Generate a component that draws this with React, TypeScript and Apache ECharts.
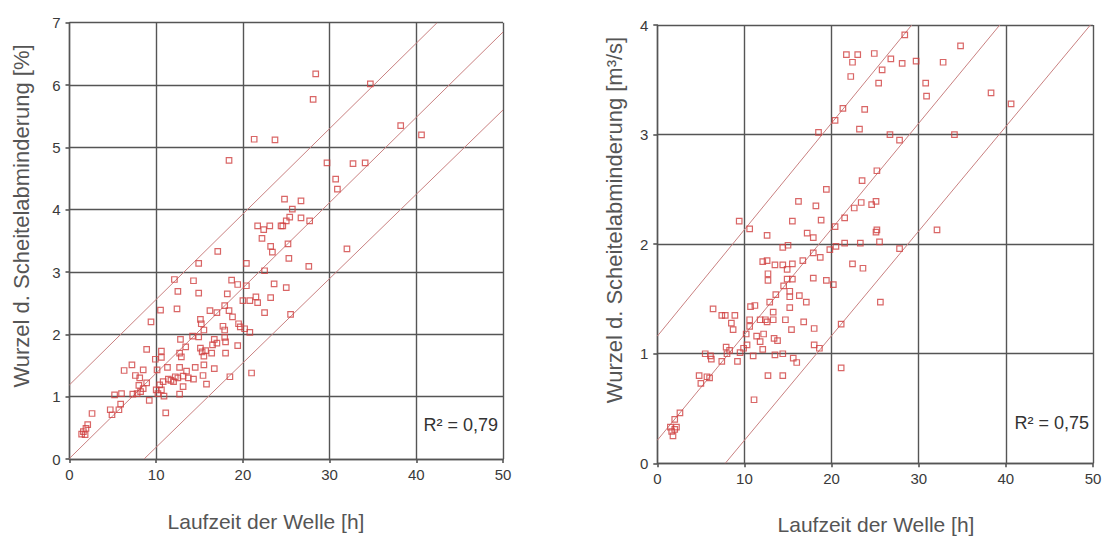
import React, { useEffect, useRef } from "react";
import * as echarts from "echarts";

// ---- Data ----
const xTicks = [0, 10, 20, 30, 40, 50];

const leftPoints: [number, number][] = [
  [21.3, 5.13], [23.7, 5.12], [18.4, 4.79], [28.4, 6.18], [28.1, 5.77], [34.7, 6.02], [38.2, 5.35], [40.6, 5.2],
  [29.7, 4.75], [32.7, 4.74], [34.1, 4.75], [30.7, 4.49], [30.9, 4.33], [24.8, 4.17], [26.7, 4.14], [25.7, 4.01],
  [25.4, 3.88], [26.7, 3.87], [27.7, 3.82], [25.0, 3.82], [24.6, 3.74], [21.7, 3.74], [22.4, 3.68], [23.1, 3.74],
  [24.4, 3.74], [22.2, 3.54], [23.2, 3.41], [23.4, 3.32], [25.2, 3.45], [25.3, 3.22], [32.0, 3.37], [27.6, 3.09],
  [17.1, 3.33], [14.9, 3.14], [20.4, 3.14], [22.5, 3.02], [12.1, 2.88], [14.3, 2.86], [18.7, 2.87], [19.4, 2.8],
  [20.4, 2.78], [23.6, 2.81], [25.0, 2.75], [12.5, 2.69], [14.9, 2.66], [18.2, 2.65], [23.2, 2.59], [21.5, 2.6],
  [20.0, 2.54], [20.8, 2.54], [21.7, 2.51], [17.9, 2.46], [12.4, 2.41], [16.2, 2.38], [17.0, 2.35], [18.4, 2.38],
  [22.5, 2.35], [25.5, 2.32], [15.1, 2.24], [18.8, 2.28], [10.5, 2.39], [9.4, 2.2], [15.2, 2.17], [15.5, 2.07],
  [17.7, 2.13], [17.9, 2.07], [19.5, 2.17], [19.7, 2.12], [20.2, 2.09], [20.8, 2.03], [12.8, 1.92], [14.2, 1.97],
  [14.9, 1.96], [16.7, 1.92], [17.9, 1.95], [18.0, 1.88], [19.4, 1.82], [17.0, 1.86], [16.5, 1.83], [13.4, 1.8],
  [8.9, 1.76], [10.6, 1.73], [12.7, 1.7], [12.9, 1.64], [15.1, 1.78], [15.3, 1.72], [15.5, 1.65], [15.7, 1.74],
  [16.4, 1.7], [18.0, 1.7], [9.9, 1.6], [10.6, 1.63], [7.2, 1.51], [6.3, 1.42], [7.6, 1.34], [8.5, 1.43],
  [10.1, 1.43], [11.3, 1.47], [12.7, 1.47], [13.5, 1.41], [14.5, 1.47], [15.5, 1.51], [16.7, 1.45], [8.1, 1.3],
  [8.9, 1.22], [8.0, 1.18], [10.4, 1.19], [10.8, 1.24], [11.4, 1.28], [11.7, 1.26], [12.2, 1.32], [12.0, 1.24],
  [12.5, 1.3], [13.1, 1.33], [13.7, 1.3], [14.3, 1.28], [15.4, 1.34], [15.8, 1.2], [13.1, 1.16], [18.5, 1.32],
  [21.0, 1.38], [5.2, 1.03], [6.0, 1.05], [7.3, 1.04], [7.8, 1.05], [8.2, 1.08], [8.5, 1.13], [9.2, 0.94],
  [10.0, 1.11], [10.2, 1.05], [10.6, 1.11], [10.9, 1.01], [12.7, 1.04], [5.9, 0.88], [5.7, 0.79], [4.7, 0.79],
  [4.9, 0.71], [2.6, 0.73], [11.1, 0.74], [2.1, 0.55], [1.9, 0.49], [1.6, 0.44], [1.4, 0.4], [1.8, 0.39],
];

const rightPoints: [number, number][] = [
  [28.4, 3.91], [21.7, 3.73], [22.4, 3.66], [23.0, 3.73], [24.9, 3.74], [26.8, 3.69], [25.8, 3.59], [28.1, 3.65],
  [29.7, 3.67], [22.2, 3.53], [25.4, 3.47], [30.8, 3.47], [30.9, 3.35], [21.3, 3.24], [23.8, 3.23], [20.4, 3.13],
  [23.2, 3.05], [18.5, 3.02], [26.7, 3.0], [27.8, 2.95], [25.2, 2.67], [23.5, 2.58], [19.4, 2.5], [16.2, 2.39],
  [18.2, 2.35], [23.4, 2.38], [25.1, 2.39], [22.6, 2.33], [24.6, 2.36], [15.5, 2.21], [18.8, 2.22], [21.5, 2.24],
  [9.4, 2.21], [10.6, 2.14], [20.4, 2.16], [34.8, 3.81], [32.8, 3.66], [38.3, 3.38], [40.6, 3.28], [34.1, 3.0],
  [32.1, 2.13], [25.2, 2.13], [25.1, 2.11], [25.5, 2.02], [27.8, 1.96], [23.6, 1.78], [25.6, 1.47], [23.3, 2.01],
  [12.6, 2.08], [17.2, 2.1], [17.9, 2.06], [14.4, 1.97], [15.0, 1.99], [17.9, 1.92], [18.7, 1.88], [19.8, 1.95],
  [20.5, 1.98], [21.5, 2.01], [12.1, 1.84], [12.6, 1.85], [13.5, 1.81], [14.4, 1.81], [14.9, 1.77], [15.5, 1.82],
  [16.7, 1.85], [17.9, 1.69], [19.4, 1.67], [20.2, 1.63], [22.4, 1.82], [12.7, 1.73], [12.7, 1.67], [14.9, 1.68],
  [15.5, 1.68], [14.5, 1.62], [13.6, 1.54], [15.2, 1.57], [15.2, 1.52], [16.3, 1.53], [17.1, 1.47], [12.9, 1.47],
  [10.7, 1.43], [11.2, 1.44], [6.4, 1.41], [7.4, 1.35], [7.8, 1.35], [8.9, 1.35], [15.2, 1.42], [13.3, 1.38],
  [10.6, 1.31], [11.8, 1.31], [12.4, 1.31], [12.6, 1.29], [13.3, 1.31], [14.7, 1.31], [16.8, 1.29], [8.5, 1.28],
  [8.7, 1.22], [10.6, 1.25], [15.4, 1.22], [18.0, 1.23], [10.2, 1.18], [11.4, 1.16], [12.2, 1.18], [13.4, 1.14],
  [13.8, 1.12], [11.8, 1.11], [10.3, 1.08], [12.1, 1.04], [9.9, 1.05], [9.5, 1.01], [7.9, 1.06], [8.0, 1.0],
  [8.3, 1.03], [5.5, 1.0], [6.1, 0.98], [6.2, 0.95], [7.4, 0.93], [9.2, 0.93], [11.0, 0.98], [13.5, 0.99],
  [14.4, 1.0], [18.0, 1.08], [18.6, 1.05], [15.6, 0.96], [16.0, 0.92], [21.1, 0.87], [21.1, 1.27], [4.8, 0.8],
  [5.0, 0.73], [5.7, 0.79], [6.0, 0.78], [12.7, 0.8], [14.4, 0.8], [11.1, 0.58], [2.6, 0.46], [2.0, 0.4],
  [1.5, 0.33], [2.0, 0.31], [1.65, 0.29], [1.8, 0.25], [2.2, 0.33],
];

// regression / band lines: endpoints
const leftLines: [number, number][][] = [
  [[0, 1.19], [42.4, 7]],
  [[0, 0.01], [50, 6.85]],
  [[8.6, 0], [50, 5.6]],
];
const rightLines: [number, number][][] = [
  [[0, 1.16], [29.2, 4]],
  [[0, 0.21], [39.3, 4]],
  [[7.8, 0], [49.7, 4]],
];

const xTitle = "Laufzeit der Welle [h]";
const leftYTitle = "Wurzel d. Scheitelabminderung [%]";
const rightYTitle = "Wurzel d. Scheitelabminderung [m³/s]";
const leftR2 = "R² = 0,79";
const rightR2 = "R² = 0,75";

const FONT = "'Liberation Sans', Arial, sans-serif";
const GRID_COLOR = "#555555";
const POINT_COLOR = "#d04040";
const LINE_COLOR = "#c98080";

export default function App() {
  const ref = useRef<HTMLDivElement>(null);

  useEffect(() => {
    if (!ref.current) return;
    const chart = echarts.init(ref.current, undefined, { renderer: "svg" });

    const makeX = (gridIndex: number) => ({
      type: "value" as const,
      gridIndex,
      min: xTicks[0],
      max: xTicks[xTicks.length - 1],
      interval: 10,
      axisLine: { show: true, lineStyle: { color: GRID_COLOR, width: 1.4 } },
      axisTick: { show: true, length: 4, lineStyle: { color: GRID_COLOR, width: 1.6 } },
      axisLabel: { color: "#3a3a3a", fontSize: 15, fontFamily: FONT, margin: 8 },
      splitLine: { show: true, lineStyle: { color: GRID_COLOR, width: 1.4 } },
    });
    const makeY = (gridIndex: number, max: number) => ({
      type: "value" as const,
      gridIndex,
      min: 0,
      max,
      interval: 1,
      axisLine: { show: true, lineStyle: { color: GRID_COLOR, width: 1.4 } },
      axisTick: { show: true, length: 4, lineStyle: { color: GRID_COLOR, width: 1.6 } },
      axisLabel: { color: "#3a3a3a", fontSize: 15, fontFamily: FONT, margin: 9 },
      splitLine: { show: true, lineStyle: { color: GRID_COLOR, width: 1.4 } },
    });

    const lineSeries = (lines: [number, number][][], idx: number) =>
      lines.map((l) => ({
        type: "line" as const,
        xAxisIndex: idx,
        yAxisIndex: idx,
        data: l,
        symbol: "none",
        lineStyle: { color: LINE_COLOR, width: 1 },
        z: 2,
        silent: true,
      }));

    const scatter = (pts: [number, number][], idx: number) => ({
      type: "scatter" as const,
      xAxisIndex: idx,
      yAxisIndex: idx,
      data: pts,
      symbol: "rect",
      symbolSize: 5.5,
      itemStyle: { color: "rgba(255,255,255,0)", borderColor: POINT_COLOR, borderWidth: 1.2 },
      z: 3,
    });

    chart.setOption({
      animation: false,
      backgroundColor: "#ffffff",
      grid: [
        { left: 69.5, top: 22.7, width: 433.5, height: 436.3 },
        { left: 657.3, top: 25, width: 435.7, height: 438.3 },
      ],
      xAxis: [makeX(0), makeX(1)],
      yAxis: [makeY(0, 7), makeY(1, 4)],
      series: [
        ...lineSeries(leftLines, 0),
        ...lineSeries(rightLines, 1),
        scatter(leftPoints, 0),
        scatter(rightPoints, 1),
      ],
      graphic: [
        {
          type: "text", x: 21, y: 216, rotation: Math.PI / 2,
          style: { text: leftYTitle, fill: "#555", font: `22px ${FONT}`, textAlign: "center", textVerticalAlign: "middle" },
        },
        {
          type: "text", x: 614, y: 220, rotation: Math.PI / 2,
          style: { text: rightYTitle, fill: "#555", font: `22px ${FONT}`, textAlign: "center", textVerticalAlign: "middle" },
        },
        {
          type: "text", x: 266, y: 521,
          style: { text: xTitle, fill: "#555", font: `21px ${FONT}`, textAlign: "center", textVerticalAlign: "middle" },
        },
        {
          type: "text", x: 876, y: 524,
          style: { text: xTitle, fill: "#555", font: `21px ${FONT}`, textAlign: "center", textVerticalAlign: "middle" },
        },
        {
          type: "text", x: 498, y: 425,
          style: { text: leftR2, fill: "#333", font: `18px ${FONT}`, textAlign: "right", textVerticalAlign: "middle" },
        },
        {
          type: "text", x: 1089, y: 423,
          style: { text: rightR2, fill: "#333", font: `18px ${FONT}`, textAlign: "right", textVerticalAlign: "middle" },
        },
      ],
    });

    return () => chart.dispose();
  }, []);

  return (
    <div
      ref={ref}
      style={{ position: "fixed", left: 0, top: 0, width: 1109, height: 543, background: "#fff" }}
    />
  );
}
